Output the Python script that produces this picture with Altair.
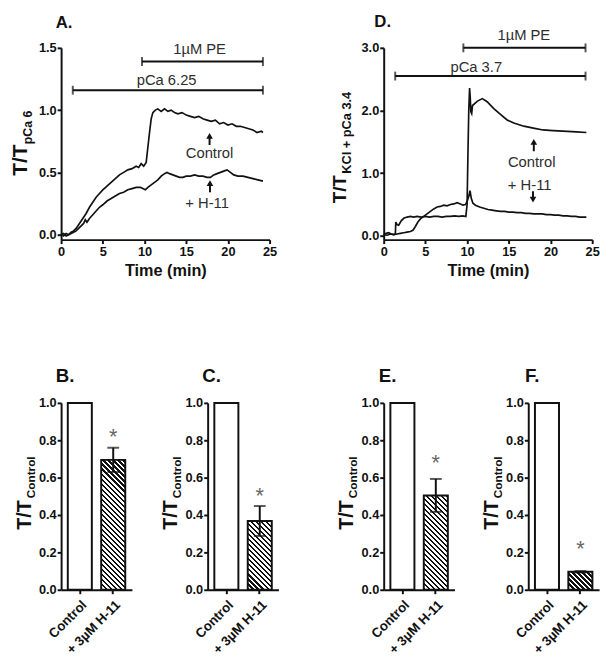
import altair as alt
import pandas as pd

FONT = "Liberation Sans"
INK = "#111111"
TXT = "#2e2e2e"

# ---------------- Panel A traces (time in min, T/T pCa6) ----------------
A_CTRL_T = [0.0, 0.3, 0.6, 0.9, 1.2, 1.5, 1.8, 2.1, 2.4, 2.7, 3.0, 3.4, 3.8, 4.2, 4.6, 5.0, 5.5, 6.0,
            6.5, 7.0, 7.5, 8.0, 8.5, 9.0, 9.3, 9.6, 9.9, 10.2, 10.4, 10.6, 10.8, 11.0, 11.3, 11.6, 12.0,
            12.4, 12.8, 13.2, 13.6, 14.0, 14.5, 15.0, 15.5, 16.0, 16.5, 17.0, 17.5, 18.0, 18.5, 19.0,
            19.5, 20.0, 20.5, 21.0, 21.5, 22.0, 22.5, 23.0, 23.5, 24.0, 24.2]
A_CTRL_V = [0.01, -0.01, 0.01, 0.0, 0.02, 0.03, 0.05, 0.08, 0.11, 0.14, 0.17, 0.22, 0.26, 0.30, 0.33,
            0.36, 0.39, 0.42, 0.45, 0.48, 0.50, 0.52, 0.53, 0.55, 0.54, 0.57, 0.55, 0.58, 0.70, 0.82,
            0.93, 0.98, 1.00, 1.01, 0.99, 1.01, 0.99, 1.00, 0.98, 0.97, 0.98, 0.96, 0.95, 0.94, 0.95,
            0.93, 0.92, 0.91, 0.92, 0.89, 0.90, 0.88, 0.89, 0.87, 0.87, 0.86, 0.85, 0.84, 0.82, 0.83, 0.82]
A_H11_T = [0.0, 0.3, 0.6, 0.9, 1.2, 1.5, 1.8, 2.1, 2.4, 2.7, 2.9, 3.1, 3.4, 3.8, 4.2, 4.6, 5.0, 5.5,
           6.0, 6.5, 7.0, 7.5, 8.0, 8.5, 9.0, 9.5, 9.8, 10.1, 10.4, 10.8, 11.2, 11.6, 12.0, 12.4, 12.7,
           13.0, 13.4, 13.8, 14.2, 14.6, 15.0, 15.5, 16.0, 16.5, 17.0, 17.5, 17.9, 18.3, 18.7, 19.1,
           19.5, 19.9, 20.3, 20.7, 21.2, 21.8, 22.4, 23.0, 23.6, 24.2]
A_H11_V = [0.0, 0.01, -0.01, 0.0, 0.01, 0.02, 0.03, 0.05, 0.07, 0.09, 0.12, 0.10, 0.13, 0.16, 0.19,
           0.22, 0.24, 0.27, 0.29, 0.31, 0.33, 0.34, 0.36, 0.37, 0.38, 0.38, 0.37, 0.36, 0.38, 0.40,
           0.42, 0.44, 0.47, 0.49, 0.50, 0.49, 0.48, 0.47, 0.46, 0.46, 0.47, 0.47, 0.48, 0.47, 0.47,
           0.46, 0.46, 0.48, 0.49, 0.50, 0.51, 0.52, 0.50, 0.48, 0.47, 0.47, 0.46, 0.45, 0.44, 0.43]

# ---------------- Panel D traces (T/T KCl + pCa 3.4) ----------------
D_CTRL_T = [0.0, 0.3, 0.6, 0.9, 1.2, 1.4, 1.45, 1.6, 1.8, 2.1, 2.4, 2.8, 3.2, 3.6, 4.0, 4.5, 5.0, 5.5,
            6.0, 6.5, 7.0, 7.5, 8.0, 8.5, 9.0, 9.5, 9.85, 10.0, 10.1, 10.2, 10.3, 10.38, 10.45, 10.55,
            10.65, 11.24, 11.83, 12.4, 13.2, 14.0, 14.8, 15.6, 16.8, 17.95, 19.1, 20.3, 21.5, 23.1, 24.3]
D_CTRL_V = [0.02, 0.04, 0.05, 0.03, 0.02, 0.03, 0.22, 0.18, 0.17, 0.24, 0.28, 0.30, 0.31, 0.30, 0.31,
            0.30, 0.31, 0.30, 0.31, 0.31, 0.30, 0.31, 0.31, 0.32, 0.31, 0.32, 0.31, 0.50, 1.30, 2.00,
            2.36, 2.20, 1.98, 1.95, 2.08, 2.15, 2.19, 2.14, 2.03, 1.94, 1.85, 1.80, 1.75, 1.72, 1.69,
            1.68, 1.67, 1.66, 1.65]
D_H11_T = [0.0, 0.4, 0.8, 1.2, 1.6, 2.0, 2.4, 2.8, 3.2, 3.5, 3.8, 4.1, 4.4, 4.8, 5.2, 5.6, 6.0, 6.4,
           6.8, 7.2, 7.6, 8.0, 8.4, 8.8, 9.2, 9.5, 9.8, 10.0, 10.2, 10.35, 10.5, 10.7, 11.0, 11.5, 12.0,
           12.5, 13.0, 13.5, 14.0, 14.5, 15.0, 15.5, 16.0, 16.5, 17.0, 17.5, 18.0, 18.5, 19.0, 19.5,
           20.0, 20.5, 21.0, 21.5, 22.0, 22.5, 23.0, 23.5, 24.0, 24.3]
D_H11_V = [0.02, 0.01, 0.03, 0.02, 0.03, 0.04, 0.05, 0.06, 0.07, 0.09, 0.15, 0.22, 0.27, 0.31, 0.35,
           0.39, 0.43, 0.46, 0.47, 0.49, 0.48, 0.50, 0.51, 0.53, 0.51, 0.49, 0.50, 0.55, 0.63, 0.72,
           0.60, 0.52, 0.49, 0.46, 0.44, 0.42, 0.41, 0.40, 0.39, 0.39, 0.38, 0.38, 0.37, 0.37, 0.36,
           0.36, 0.35, 0.35, 0.35, 0.34, 0.34, 0.33, 0.33, 0.32, 0.32, 0.31, 0.31, 0.30, 0.30, 0.30]

# ---------------- Annotations (data coordinates) ----------------
A_RANGE_LABEL = ["1\u00b5M PE", "pCa 6.25"]
A_RANGE_START = [9.7, 1.4]
A_RANGE_END = [24.2, 24.2]
A_RANGE_V = [1.39, 1.16]
A_RANGE_TEXT_T = [16.6, 12.65]
A_RANGE_TEXT_V = [1.49, 1.245]
A_ARROW_LABEL = ["Control", "+ H-11"]
A_ARROW_T = [17.8, 17.85]
A_ARROW_TAIL = [0.72, 0.34]
A_ARROW_HEAD = [0.793, 0.414]
A_ARROW_SHAPE = ["triangle-up", "triangle-up"]
A_ARROW_TEXT_T = [17.8, 17.5]
A_ARROW_TEXT_V = [0.655, 0.25]

D_RANGE_LABEL = ["1\u00b5M PE", "pCa 3.7"]
D_RANGE_START = [9.55, 1.38]
D_RANGE_END = [24.2, 24.2]
D_RANGE_V = [3.0, 2.55]
D_RANGE_TEXT_T = [16.8, 11.1]
D_RANGE_TEXT_V = [3.21, 2.70]
D_ARROW_LABEL = ["Control", "+ H-11"]
D_ARROW_T = [18.0, 17.9]
D_ARROW_TAIL = [1.35, 0.71]
D_ARROW_HEAD = [1.50, 0.58]
D_ARROW_SHAPE = ["triangle-up", "triangle-down"]
D_ARROW_TEXT_T = [17.75, 17.5]
D_ARROW_TEXT_V = [1.17, 0.815]

# ---------------- Bar panels ----------------
BAR_CATS = ["Control", "+ 3\u00b5M H-11"]
B_VALS = [1.0, 0.695]
B_ERR = [0.0, 0.065]
B_STAR = 0.847
C_VALS = [1.0, 0.368]
C_ERR = [0.0, 0.08]
C_STAR = 0.535
E_VALS = [1.0, 0.505]
E_ERR = [0.0, 0.088]
E_STAR = 0.71
F_VALS = [1.0, 0.096]
F_ERR = [0.0, 0.004]
F_STAR = 0.247

TOP_W, TOP_H = 212, 195
BAR_W, BAR_H = 72, 190
PAD_IN, PAD_OUT = 0.28, 0.2


def ax(**kw):
    base = dict(domainColor=INK, domainWidth=2, tickColor=INK, tickWidth=2, tickSize=4,
                labelFont=FONT, labelFontWeight="bold", labelFontSize=13, labelColor=INK,
                labelPadding=2, labelFlush=False, grid=False, titleFont=FONT, titleFontWeight="bold",
                titleFontSize=16.5, titleColor=INK)
    base.update(kw)
    return alt.Axis(**base)


def label_layer(text, x, y, size, weight="bold", angle=0, align="left", baseline="middle", color=INK):
    return alt.Chart(pd.DataFrame({"lab": [text]})).mark_text(
        font=FONT, fontSize=size, fontWeight=weight, angle=angle, align=align,
        baseline=baseline, color=color
    ).encode(text="lab:N", x=alt.value(x), y=alt.value(y))


def trace_panel(ctrl_t, ctrl_v, h_t, h_v, ydom, yticks,
                r_lab, r_s, r_e, r_v, r_tt, r_tv,
                a_lab, a_t, a_tail, a_head, a_shape, a_tt, a_tv,
                letter, letter_xy, main_xy, sub_text, sub_xy, main_size, sub_size):
    rows = []
    for name, ts, vs in (("Control", ctrl_t, ctrl_v), ("H-11", h_t, h_v)):
        for i, (t, v) in enumerate(zip(ts, vs)):
            rows.append({"s": name, "i": i, "t": t, "v": v})
    df = pd.DataFrame(rows)
    xs = alt.Scale(domain=[0, 25], nice=False, zero=False)
    x = alt.X("t:Q", scale=xs,
              axis=ax(values=[0, 5, 10, 15, 20, 25], format="d", title="Time (min)", titlePadding=4))
    y = alt.Y("v:Q", scale=alt.Scale(domain=ydom, nice=False, zero=False),
              axis=ax(values=yticks, format=".1f", title=None, labelPadding=1))
    lines = alt.Chart(df).mark_line(color=INK, strokeWidth=1.7).encode(
        x=x, y=y, detail="s:N", order="i:Q")

    rdf = pd.DataFrame({"lab": r_lab, "t": r_s, "t2": r_e, "v": r_v, "tt": r_tt, "tv": r_tv})
    rng = alt.Chart(rdf).mark_rule(color=INK, strokeWidth=2).encode(x=x, x2="t2:Q", y=y)
    cap1 = alt.Chart(rdf).mark_tick(orient="vertical", size=9, thickness=2, color=INK).encode(x=x, y=y)
    cap2 = alt.Chart(rdf).mark_tick(orient="vertical", size=9, thickness=2, color=INK).encode(
        x=alt.X("t2:Q", scale=xs), y=y)
    rtxt = alt.Chart(rdf).mark_text(font=FONT, fontSize=15, color=TXT).encode(
        x=alt.X("tt:Q", scale=xs), y=alt.Y("tv:Q"), text="lab:N")

    adf = pd.DataFrame({"lab": a_lab, "t": a_t, "v": a_tail, "v2": a_head, "shape": a_shape,
                        "tt": a_tt, "tv": a_tv})
    shaft = alt.Chart(adf).mark_rule(color=INK, strokeWidth=2).encode(x=x, y=y, y2="v2:Q")
    head = alt.Chart(adf).mark_point(filled=True, size=45, color=INK, opacity=1).encode(
        x=x, y=alt.Y("v2:Q"), shape=alt.Shape("shape:N", scale=None))
    atxt = alt.Chart(adf).mark_text(font=FONT, fontSize=15, color=TXT).encode(
        x=alt.X("tt:Q", scale=xs), y=alt.Y("tv:Q"), text="lab:N")

    let = label_layer(letter, letter_xy[0], letter_xy[1], 17, align="center")
    main = label_layer("T/T", main_xy[0], main_xy[1], main_size, angle=270, baseline="alphabetic")
    sub = label_layer(sub_text, sub_xy[0], sub_xy[1], sub_size, angle=270, baseline="alphabetic")

    return alt.layer(lines, rng, cap1, cap2, rtxt, shaft, head, atxt, let, main, sub).properties(
        width=TOP_W, height=TOP_H)


def hatch(w, h, period=3.6, dark=0.48):
    r = h / w
    c = (1 + r) / (1 + r * r)
    L = (w + h) / 2 ** 0.5
    stops = []
    pos = 0.0
    while pos < L - 1e-9:
        a = pos / L
        b = min((pos + dark * period) / L, 1.0)
        e = min((pos + period) / L, 1.0)
        stops += [(a, INK), (b, INK), (b, "#ffffff"), (e, "#ffffff")]
        pos += period
    return alt.LinearGradient(
        gradient="linear", x1=0, y1=1, x2=c, y2=1 - c * r,
        stops=[alt.GradientStop(color=col, offset=round(o, 5)) for o, col in stops])


def bar_panel(vals, errs, star, letter):
    df = pd.DataFrame({"cat": BAR_CATS, "v": vals,
                       "lo": [v - e for v, e in zip(vals, errs)],
                       "hi": [v + e for v, e in zip(vals, errs)],
                       "star": [None, star]})
    xs = alt.Scale(domain=BAR_CATS, paddingInner=PAD_IN, paddingOuter=PAD_OUT)
    x = alt.X("cat:N", sort=BAR_CATS, scale=xs,
              axis=ax(title=None, labelAngle=315, labelAlign="right", labelBaseline="top",
                      labelFontSize=13.5, labelPadding=4, tickSize=4))
    ys = alt.Scale(domain=[0, 1], nice=False, zero=True)
    yax = ax(values=[0, 0.2, 0.4, 0.6, 0.8, 1.0], format=".1f", title=None, labelPadding=1)

    def Y(f):
        return alt.Y(f, scale=ys, axis=yax)

    step = BAR_W / (2 - PAD_IN + 2 * PAD_OUT)
    bw = step * (1 - PAD_IN)
    base = alt.Chart(df)
    ctrl = base.transform_filter(alt.datum.cat == BAR_CATS[0]).mark_bar(
        fill="#ffffff", stroke=INK, strokeWidth=2).encode(x=x, y=Y("v:Q"))
    h11 = base.transform_filter(alt.datum.cat == BAR_CATS[1]).mark_bar(
        fill=hatch(bw, vals[1] * BAR_H), stroke=INK, strokeWidth=2).encode(x=x, y=Y("v:Q"))
    hb = base.transform_filter(alt.datum.cat == BAR_CATS[1])
    err = hb.mark_rule(color=INK, strokeWidth=2).encode(x=x, y=Y("lo:Q"), y2="hi:Q")
    capt = hb.mark_tick(orient="horizontal", size=12, thickness=2, color=INK).encode(x=x, y=Y("hi:Q"))
    capb = hb.mark_tick(orient="horizontal", size=12, thickness=2, color=INK).encode(x=x, y=Y("lo:Q"))
    st = hb.mark_text(text="*", font=FONT, fontSize=22, color="#666666", dy=6).encode(x=x, y=Y("star:Q"))

    let = label_layer(letter, 4, -27, 19, align="center")
    main = label_layer("T/T", -31, 129, 20, angle=270, baseline="alphabetic")
    sub = label_layer("Control", -27, 97, 12, angle=270, baseline="alphabetic")
    return alt.layer(ctrl, h11, err, capt, capb, st, let, main, sub).properties(width=BAR_W, height=BAR_H)


panel_a = trace_panel(A_CTRL_T, A_CTRL_V, A_H11_T, A_H11_V, [-0.04, 1.5], [0, 0.5, 1.0, 1.5],
                      A_RANGE_LABEL, A_RANGE_START, A_RANGE_END, A_RANGE_V, A_RANGE_TEXT_T, A_RANGE_TEXT_V,
                      A_ARROW_LABEL, A_ARROW_T, A_ARROW_TAIL, A_ARROW_HEAD, A_ARROW_SHAPE,
                      A_ARROW_TEXT_T, A_ARROW_TEXT_V,
                      "A.", (3, -25), (-35, 130), "pCa 6", (-30, 98), 21, 12.5)
panel_d = trace_panel(D_CTRL_T, D_CTRL_V, D_H11_T, D_H11_V, [-0.06, 3.0],
                      [0, 0.5, 1.0, 1.5, 2.0, 2.5, 3.0],
                      D_RANGE_LABEL, D_RANGE_START, D_RANGE_END, D_RANGE_V, D_RANGE_TEXT_T, D_RANGE_TEXT_V,
                      D_ARROW_LABEL, D_ARROW_T, D_ARROW_TAIL, D_ARROW_HEAD, D_ARROW_SHAPE,
                      D_ARROW_TEXT_T, D_ARROW_TEXT_V,
                      "D.", (-1, -26), (-38, 158), "KCl + pCa 3.4", (-33, 128), 19, 13)

panel_b = bar_panel(B_VALS, B_ERR, B_STAR, "B.")
panel_c = bar_panel(C_VALS, C_ERR, C_STAR, "C.")
panel_e = bar_panel(E_VALS, E_ERR, E_STAR, "E.")
panel_f = bar_panel(F_VALS, F_ERR, F_STAR, "F.")

top = alt.hconcat(panel_a, panel_d, spacing=55)
bottom = alt.hconcat(alt.hconcat(panel_b, panel_c, spacing=30),
                     alt.hconcat(panel_e, panel_f, spacing=28), spacing=60)

chart = alt.vconcat(top, bottom, spacing=90).properties(
    padding={"left": 2, "top": 0, "right": 4, "bottom": 4}
).configure(background="white").configure_view(strokeWidth=0)

chart.save("out.html", embed_options={"renderer": "svg", "actions": False})
